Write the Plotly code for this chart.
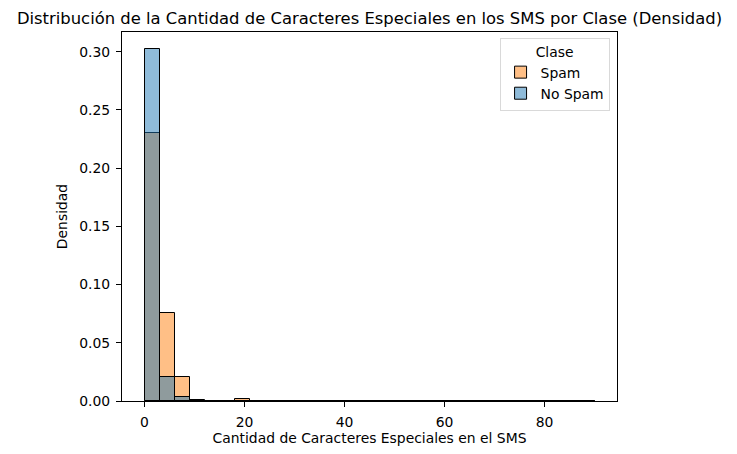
import numpy as np
import plotly.graph_objects as go

# bin edges of the histogram (30 bins of width 3)
bin_edges = list(range(0, 93, 3))

# densities per bin
spam_density = [0.2300, 0.0759, 0.0204, 0.0003, 0.0003, 0.0003, 0.0018, 0.0, 0.0, 0.0,
                0.0, 0.0, 0.0, 0.0, 0.0, 0.0, 0.0, 0.0, 0.0, 0.0,
                0.0, 0.0, 0.0, 0.0, 0.0, 0.0, 0.0, 0.0, 0.0, 0.0]
nospam_density = [0.3020, 0.0204, 0.0032, 0.0012, 0.0002, 0.0001, 0.0001, 0.0001, 0.0, 0.0,
                  0.0, 0.0, 0.0, 0.0, 0.0, 0.0, 0.0, 0.0, 0.0, 0.0,
                  0.0, 0.0, 0.0, 0.0, 0.0, 0.0, 0.0, 0.0, 0.0, 0.0001]

x_ticks = [0, 20, 40, 60, 80]
y_ticks = [0.00, 0.05, 0.10, 0.15, 0.20, 0.25, 0.30]

edges = np.array(bin_edges, dtype=float)
centers = (edges[:-1] + edges[1:]) / 2
widths = np.diff(edges)

fig = go.Figure()
fig.add_trace(go.Bar(
    x=centers, y=spam_density, width=widths, name="Spam",
    marker=dict(color="rgba(255,127,14,0.5)", line=dict(color="black", width=1)),
))
fig.add_trace(go.Bar(
    x=centers, y=nospam_density, width=widths, name="No Spam",
    marker=dict(color="rgba(31,119,180,0.5)", line=dict(color="black", width=1)),
))

axis_style = dict(
    showline=True, linecolor="black", linewidth=1, mirror=True,
    ticks="outside", ticklen=5, tickcolor="black", showgrid=False, zeroline=False,
    tickfont=dict(size=13.9, color="black"), ticklabelstandoff=3,
)

# the page body adds an 8px offset, so margins are shifted to compensate
fig.update_layout(
    width=737, height=454,
    barmode="overlay", bargap=0,
    paper_bgcolor="white", plot_bgcolor="white",
    font=dict(family="DejaVu Sans", color="black"),
    margin=dict(l=114, r=128, t=24, b=61),
    title=dict(
        text="Distribución de la Cantidad de Caracteres Especiales en los SMS por Clase (Densidad)",
        xref="paper", x=0.5, xanchor="center", y=0.978, yanchor="middle",
        font=dict(size=16.4, color="black"),
    ),
    xaxis=dict(
        range=[-4.5, 94.5], tickvals=x_ticks,
        title=dict(text="Cantidad de Caracteres Especiales en el SMS", font=dict(size=13.9), standoff=4),
        **axis_style,
    ),
    yaxis=dict(
        range=[0, 0.317], tickvals=y_ticks, tickformat=".2f",
        title=dict(text="Densidad", font=dict(size=13.9), standoff=8),
        **axis_style,
    ),
    legend=dict(
        x=0.985, y=0.985, xanchor="right", yanchor="top",
        bgcolor="white", bordercolor="#d9d9d9", borderwidth=1,
        font=dict(size=13.9),
        title=dict(text="Clase", side="top center", font=dict(size=13.9)),
        traceorder="normal", tracegroupgap=0,
    ),
)

fig.write_html("out.html")
